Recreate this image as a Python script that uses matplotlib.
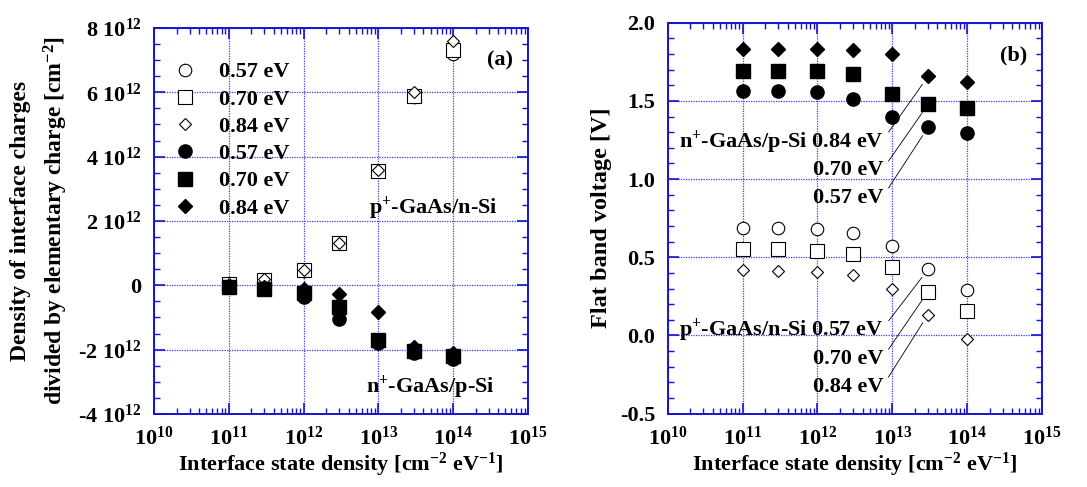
import numpy as np
import matplotlib
matplotlib.use("Agg")
import matplotlib.pyplot as plt
from matplotlib.ticker import MultipleLocator, FuncFormatter, LogLocator, NullFormatter

plt.rcParams['font.family'] = ['Liberation Serif', 'DejaVu Serif']
plt.rcParams['font.weight'] = 'bold'
plt.rcParams['axes.labelweight'] = 'bold'
plt.rcParams['axes.unicode_minus'] = False
plt.rcParams['mathtext.fontset'] = 'custom'
plt.rcParams['mathtext.rm'] = 'Liberation Serif:bold'
plt.rcParams['mathtext.bf'] = 'Liberation Serif:bold'
plt.rcParams['mathtext.it'] = 'Liberation Serif:bold:italic'
plt.rcParams['mathtext.default'] = 'bf'

# interface state density [cm^-2 eV^-1]
dit = [1e11, 3e11, 1e12, 3e12, 1e13, 3e13, 1e14]
energies = ["0.57 eV", "0.70 eV", "0.84 eV"]

# (a) interface charge density / q  [1e12 cm^-2]
# p+-GaAs/n-Si (open symbols)
qa_p057 = [0.00, 0.12, 0.45, 1.30, 3.55, 5.85, 7.20]
qa_p070 = [0.05, 0.15, 0.49, 1.31, 3.55, 5.90, 7.30]
qa_p084 = [0.05, 0.20, 0.49, 1.33, 3.57, 6.00, 7.60]
# n+-GaAs/p-Si (filled symbols)
qa_n057 = [-0.05, -0.10, -0.36, -1.06, -1.80, -2.12, -2.28]
qa_n070 = [-0.05, -0.10, -0.25, -0.67, -1.71, -2.04, -2.20]
qa_n084 = [-0.05, -0.05, -0.10, -0.26, -0.83, -1.92, -2.10]

# (b) flat band voltage [V]
vfb_n057 = [1.566, 1.566, 1.556, 1.509, 1.400, 1.330, 1.293]
vfb_n070 = [1.688, 1.688, 1.688, 1.669, 1.545, 1.477, 1.456]
vfb_n084 = [1.833, 1.833, 1.833, 1.827, 1.800, 1.656, 1.620]
vfb_p057 = [0.689, 0.689, 0.680, 0.657, 0.573, 0.422, 0.294]
vfb_p070 = [0.554, 0.554, 0.543, 0.522, 0.441, 0.281, 0.155]
vfb_p084 = [0.420, 0.411, 0.405, 0.384, 0.300, 0.134, -0.020]

BLUE = "#1414d2"
GRID = "#3c3cf0"

fig = plt.figure(figsize=(10.87, 4.87), dpi=100)
axa = fig.add_axes([0.1417, 0.150, 0.344, 0.7926])
axb = fig.add_axes([0.6143, 0.1505, 0.3443, 0.803])

open_kw = dict(mfc="white", mec="black", mew=0.8, ls="none")
fill_kw = dict(color="black", ls="none")
mk_size = {"o": 9, "s": 9.5, "D": 6.5}


def style_axes(ax):
    ax.set_xscale("log")
    ax.set_xlim(1e10, 1e15)
    ax.xaxis.set_major_locator(LogLocator(base=10, numticks=10))
    ax.xaxis.set_minor_locator(LogLocator(base=10, subs=np.arange(2, 10), numticks=20))
    ax.xaxis.set_minor_formatter(NullFormatter())
    ax.xaxis.set_major_formatter(FuncFormatter(lambda v, p: "$10^{%d}$" % round(np.log10(v))))
    for s in ax.spines.values():
        s.set_color(BLUE)
        s.set_linewidth(1.4)
    ax.tick_params(which="both", direction="in", top=True, right=True, color=BLUE)
    ax.tick_params(which="major", length=8, width=1.2, labelsize=16, pad=9)
    ax.tick_params(which="minor", length=4, width=1.0)
    ax.grid(True, which="major", color=GRID, ls=(0, (1, 1)), lw=0.9)
    ax.set_axisbelow(True)
    ax.set_xlabel("Interface state density [cm$^{-2}$ eV$^{-1}$]", fontsize=16, labelpad=1)


# ---- panel (a)
style_axes(axa)
for vals, m, lab in zip([qa_p057, qa_p070, qa_p084], ["o", "s", "D"], energies):
    axa.plot(dit, np.array(vals) * 1e12, marker=m, ms=mk_size[m], label=lab, **open_kw)
for vals, m, lab in zip([qa_n057, qa_n070, qa_n084], ["o", "s", "D"], energies):
    axa.plot(dit, np.array(vals) * 1e12, marker=m, ms=mk_size[m] + 0.5, label=lab, **fill_kw)
axa.set_ylim(-4e12, 8e12)
axa.yaxis.set_major_locator(MultipleLocator(2e12))
axa.yaxis.set_minor_locator(MultipleLocator(0.5e12))


def fmt_a(v, p):
    m = int(round(v / 1e12))
    return "0" if m == 0 else "%d 10$^{12}$" % m


axa.yaxis.set_major_formatter(FuncFormatter(fmt_a))
axa.set_ylabel("Density of interface charges\ndivided by elementary charge [cm$^{-2}$]",
               fontsize=17, labelpad=6, linespacing=1.5)
axa.legend(loc="upper left", bbox_to_anchor=(0.03, 0.935), frameon=False, fontsize=16,
           handletextpad=1.0, labelspacing=0.3, borderaxespad=0, handlelength=1.0)
axa.text(0.96, 0.915, "(a)", transform=axa.transAxes, ha="right", va="center", fontsize=16)
axa.text(0.92, 0.532, "p$^{+}$-GaAs/n-Si", transform=axa.transAxes, ha="right", va="center", fontsize=16)
axa.text(0.91, 0.07, "n$^{+}$-GaAs/p-Si", transform=axa.transAxes, ha="right", va="center", fontsize=16)

# ---- panel (b)
style_axes(axb)
for vals, m in zip([vfb_p057, vfb_p070, vfb_p084], ["o", "s", "D"]):
    axb.plot(dit, vals, marker=m, ms=mk_size[m], **open_kw)
for vals, m in zip([vfb_n057, vfb_n070, vfb_n084], ["o", "s", "D"]):
    axb.plot(dit, vals, marker=m, ms=mk_size[m] + 0.5, **fill_kw)
axb.set_ylim(-0.5, 2.0)
axb.yaxis.set_major_locator(MultipleLocator(0.5))
axb.yaxis.set_minor_locator(MultipleLocator(0.1))
axb.yaxis.set_major_formatter(FuncFormatter(lambda v, p: "%.1f" % v))
axb.set_ylabel("Flat band voltage [V]", fontsize=17.5, labelpad=6)
axb.text(0.96, 0.915, "(b)", transform=axb.transAxes, ha="right", va="center", fontsize=16)

# leader labels to the 3e13 points
xt = 7.6e12
arrow = dict(arrowstyle="-", lw=0.6, color="black", relpos=(1.0, 0.6), shrinkA=3, shrinkB=7)
n_labels = ["n$^{+}$-GaAs/p-Si 0.84 eV", "0.70 eV", "0.57 eV"]
n_series = [vfb_n084, vfb_n070, vfb_n057]
p_labels = ["p$^{+}$-GaAs/n-Si 0.57 eV", "0.70 eV", "0.84 eV"]
p_series = [vfb_p057, vfb_p070, vfb_p084]
n_ytext = [1.236, 1.055, 0.88]
p_ytext = [0.032, -0.149, -0.33]
for lab, vals, yt in zip(n_labels + p_labels, n_series + p_series, n_ytext + p_ytext):
    axb.annotate(lab, xy=(dit[5], vals[5]), xytext=(xt, yt), ha="right", va="center",
                 fontsize=16, arrowprops=arrow)

fig.savefig("out.png", dpi=100)
